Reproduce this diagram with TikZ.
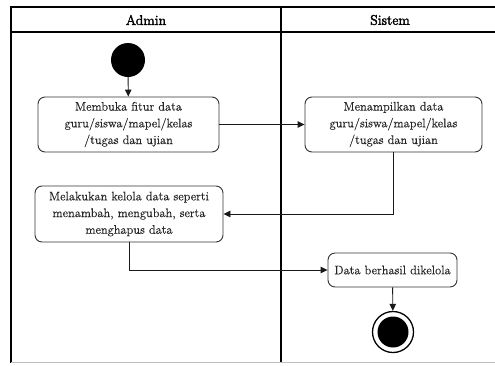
\documentclass[tikz,border=0pt]{standalone}
\usepackage{fontspec}
\newfontfamily\diagfont{Latin Modern Roman}[FakeBold=0.3]
\newfontfamily\diagheadfont{Latin Modern Roman}[FakeBold=2.2]
\usetikzlibrary{arrows.meta}
\begin{document}
\begin{tikzpicture}[x=1pt,y=-1pt,
  lane/.style={draw=black,line width=1.1pt},
  act/.style={draw=black!80,line width=0.9pt,rounded corners=7pt,fill=white,
    align=center,inner sep=0pt,text=black!85,font=\diagfont\fontsize{12.4}{16.7}\selectfont},
  flow/.style={draw=black!90,line width=0.9pt,-{Triangle[length=7pt,width=6.5pt]}},
  head/.style={font=\diagheadfont\fontsize{14}{17}\selectfont}]
\useasboundingbox (0,0) rectangle (495,365);
% swimlane frame
\draw[lane] (11,363) -- (11,7) -- (500,7);
\draw[lane] (11,32) -- (500,32);
\draw[lane] (281,7) -- (281,363);
\draw[draw=black!25,line width=1pt] (11,362.5) -- (500,362.5);
\node[head] (hadmin) at (146,20) {Admin};
\node[head] (hsistem) at (390,20) {Sistem};
% activities
\node[circle,fill=black,minimum size=34pt,inner sep=0pt] (start) at (128,60) {};
\node[act,minimum width=181pt,minimum height=55pt] (b1) at (128.5,124.5)
  {Membuka fitur data\\guru/siswa/mapel/kelas\\/tugas dan ujian};
\node[act,minimum width=177pt,minimum height=55pt] (b2) at (393.5,124.5)
  {Menampilkan data\\guru/siswa/mapel/kelas\\/tugas dan ujian};
\node[act,minimum width=188pt,minimum height=56pt] (b3) at (129,214)
  {Melakukan kelola data seperti\\menambah, mengubah, serta\\menghapus data};
\node[act,minimum width=129pt,minimum height=34pt] (b4) at (392.5,270)
  {Data berhasil dikelola};
\node[circle,draw=black,line width=1.3pt,minimum size=41pt,inner sep=0pt] (end) at (393,332) {};
\node[circle,fill=black,minimum size=31pt,inner sep=0pt] (endin) at (end.center) {};
% control flow
\draw[flow] (start) -- (b1);
\draw[flow] (b1) -- (b2);
\draw[flow] (b2.south) |- (b3.east);
\draw[flow] (b3.south) |- (b4.west);
\draw[flow] (b4) -- (end);
\end{tikzpicture}
\end{document}
